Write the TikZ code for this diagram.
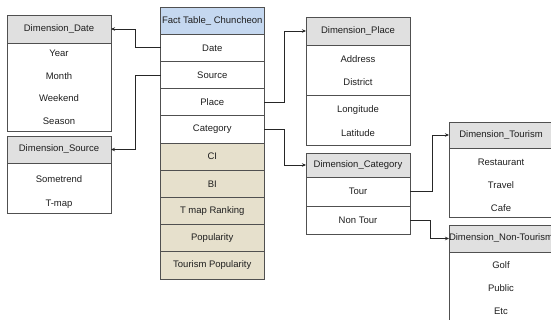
\documentclass[tikz,border=0pt]{standalone}
\usepackage{fontspec}
\setmainfont{Liberation Sans}
\usetikzlibrary{arrows.meta}
\definecolor{hdrgray}{RGB}{224,224,224}
\definecolor{facthdr}{RGB}{197,216,240}
\definecolor{beige}{RGB}{230,224,204}
\definecolor{bordergray}{RGB}{80,80,80}
\definecolor{txtgray}{RGB}{30,30,30}
\begin{document}
\begin{tikzpicture}[x=1pt,y=-1pt,
  font=\fontsize{9.5}{11}\selectfont,
  cell/.style={draw=bordergray, line width=0.8pt, inner sep=0pt, outer sep=0pt, anchor=north west, text=txtgray, minimum width=104pt},
  hdr/.style={cell, fill=hdrgray},
  frow/.style={cell, fill=white, minimum width=103.5pt, minimum height=27.2pt},
  fbeige/.style={frow, fill=beige},
  item/.style={inner sep=0pt, text=txtgray},
  conn/.style={draw=black!85, line width=0.8pt, -{Stealth[length=4pt,width=3.5pt]}}]
\useasboundingbox (0,0) rectangle (551,320);
\clip (0,0) rectangle (551,320);

% Dimension_Date
\node[hdr, minimum height=28pt] (dd) at (7,15) {Dimension\_Date};
\node[cell, minimum height=88pt] (ddb) at (7,43) {};
\node[item] (dd1) at (59,53) {Year};
\node[item] (dd2) at (59,76) {Month};
\node[item] (dd3) at (59,98) {Weekend};
\node[item] (dd4) at (59,121) {Season};

% Dimension_Source
\node[hdr, minimum height=27pt] (ds) at (7,136) {Dimension\_Source};
\node[cell, minimum height=50pt] (dsb) at (7,163) {};
\node[item] (ds1) at (59,179) {Sometrend};
\node[item] (ds2) at (59,204) {T-map};

% Fact table
\node[frow, fill=facthdr] (fh) at (160.5,7) {Fact Table\_ Chuncheon};
\node[frow] (fdate) at (160.5,34.2) {Date};
\node[frow] (fsource) at (160.5,61.4) {Source};
\node[frow] (fplace) at (160.5,88.6) {Place};
\node[frow] (fcat) at (160.5,115.8) {Category};
\node[fbeige] (fci) at (160.5,143) {CI};
\node[fbeige] (fbi) at (160.5,170.2) {BI};
\node[fbeige] (ftmap) at (160.5,197.4) {T map Ranking};
\node[fbeige] (fpop) at (160.5,224.6) {Popularity};
\node[fbeige] (ftour) at (160.5,251.8) {Tourism Popularity};

% Dimension_Place
\node[hdr, minimum height=28pt] (dp) at (306,17) {Dimension\_Place};
\node[cell, minimum height=50pt] (dpb1) at (306,45) {};
\node[cell, minimum height=50pt] (dpb2) at (306,95) {};
\node[item] (dp1) at (358,59) {Address};
\node[item] (dp2) at (358,82) {District};
\node[item] (dp3) at (358,110) {Longitude};
\node[item] (dp4) at (358,133) {Latitude};

% Dimension_Category
\node[hdr, minimum height=24pt] (dc) at (306,153) {Dimension\_Category};
\node[cell, minimum height=29pt] (dctour) at (306,177) {Tour};
\node[cell, minimum height=28pt] (dcnon) at (306,206) {Non Tour};

% Dimension_Tourism
\node[hdr, minimum height=26pt] (dt) at (449,122) {Dimension\_Tourism};
\node[cell, minimum height=69pt] (dtb) at (449,148) {};
\node[item] (dt1) at (501,162) {Restaurant};
\node[item] (dt2) at (501,185) {Travel};
\node[item] (dt3) at (501,208) {Cafe};

% Dimension_Non-Tourism
\node[hdr, minimum height=27pt] (dn) at (449,225) {};
\node[item] (dnt) at (dn.center) {Dimension\_Non-Tourism};
\node[cell, minimum height=80pt] (dnb) at (449,252) {};
\node[item] (dn1) at (501,265) {Golf};
\node[item] (dn2) at (501,288) {Public};
\node[item] (dn3) at (501,311) {Etc};

% Connectors
\draw[conn] (fdate.west) -- ++(-25,0) |- (dd.east);
\draw[conn] (fsource.west) -- ++(-25,0) |- (ds.east);
\draw[conn] (fplace.east) -- ++(20,0) |- (dp.west);
\draw[conn] (fcat.east) -- ++(20,0) |- (dc.west);
\draw[conn] (dctour.east) -- ++(22,0) |- (dt.west);
\draw[conn] (dcnon.east) -- ++(20,0) |- (dn.west);
\end{tikzpicture}
\end{document}
